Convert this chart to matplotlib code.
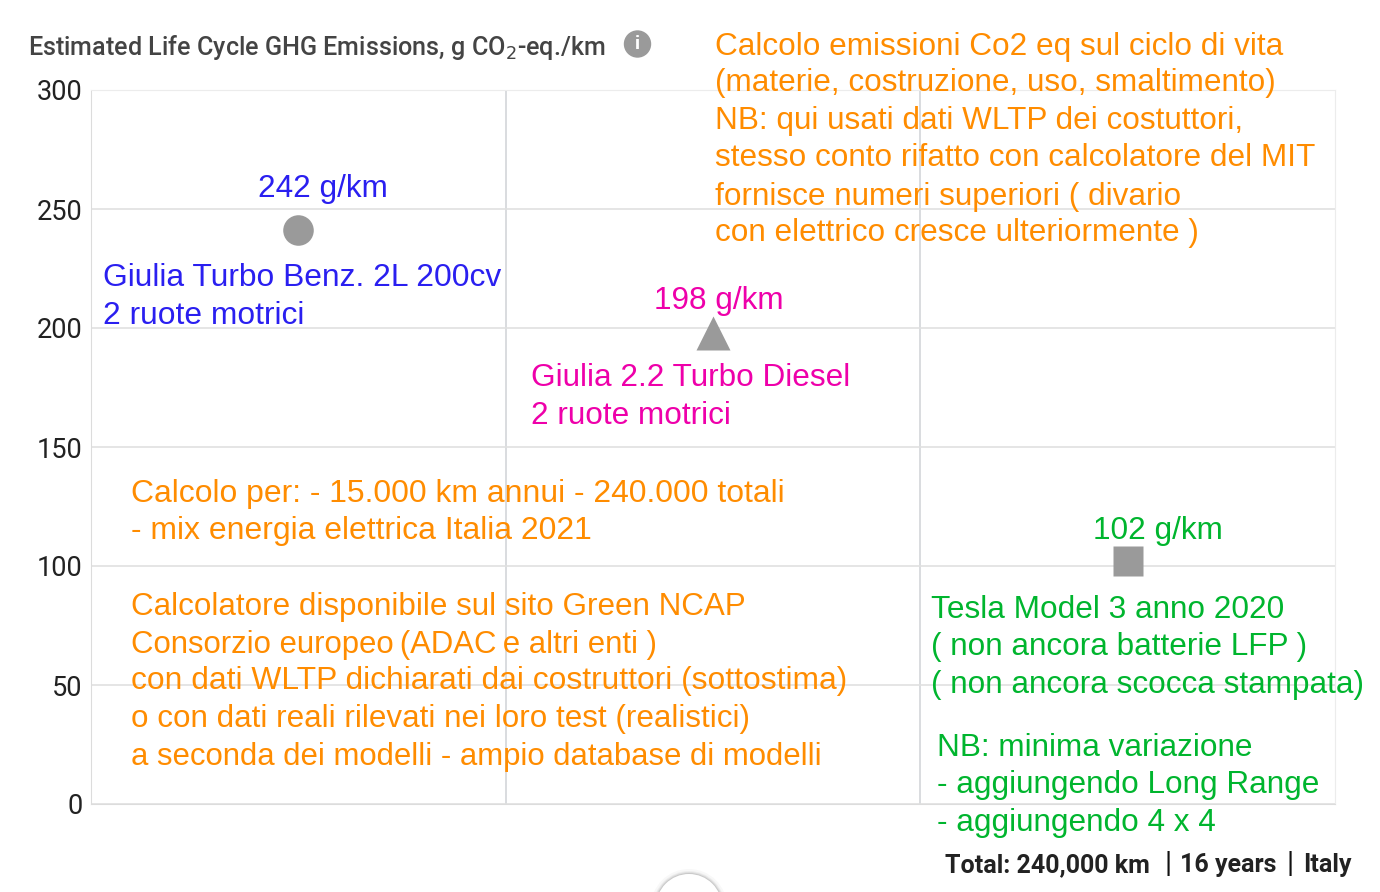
import matplotlib
matplotlib.use('Agg')
import matplotlib.pyplot as plt
from matplotlib.patches import Circle

W, H = 1380, 892

# chart data
yticks = [0, 50, 100, 150, 200, 250, 300]
xgrid = [1, 2]
cars_x = [0.5, 1.5, 2.5]
cars_y = [241, 198, 102]
cars_marker = ['o', '^', 's']

BLUE = '#2a1ff0'
MAGENTA = '#ee00aa'
ORANGE = '#ff8c00'
GREEN = '#00b52e'
GREY = '#9a9a9a'

plt.rcParams['font.family'] = ['Roboto', 'DejaVu Sans']

fig = plt.figure(figsize=(W / 100, H / 100), dpi=100)
ax = fig.add_axes([91 / W, 1 - 804 / H, (1335 - 91) / W, (804 - 90) / H])
ax.set_xlim(0, 3)
ax.set_ylim(0, 300)
ax.set_yticks(yticks)
ax.set_xticks(xgrid)
ax.tick_params(axis='y', length=0, pad=6, labelsize=19.5, labelcolor='#222222')
ax.tick_params(axis='x', length=0, labelbottom=False)
ax.grid(axis='y', color='#e0e0e0', lw=1.2)
ax.grid(axis='x', color='#cfd2d6', lw=1.1)
ax.set_axisbelow(True)
for s in ['top', 'right']:
    ax.spines[s].set_color('#ececec')
for s in ['left', 'bottom']:
    ax.spines[s].set_color('#dcdcdc')

for x, y, m in zip(cars_x, cars_y, cars_marker):
    ax.plot([x], [y], marker=m, ms=22 if m != '^' else 24, color=GREY, ls='none', mec='none', zorder=3, clip_on=False)


def txt(x, y, s, color, size=22.7):
    fig.text((x - 1) / W, 1 - (y + 2.5) / H, s, color=color, fontsize=size, va='center', ha='left', family=['Liberation Sans', 'DejaVu Sans'])


fig.text(28 / W, 1 - 47 / H, 'Estimated Life Cycle GHG Emissions, g CO$_2$-eq./km', fontsize=18.1, fontweight='medium', color='#444444', va='center', family='Roboto')

# info icon, pixel coordinates
fig.add_artist(Circle((637.5, H - 44), 13, color=GREY, transform=None))
fig.text(637.5 / W, 1 - 44 / H, 'i', fontsize=14, fontweight='bold', color='white', ha='center', va='center', family='Roboto')

# round button cut off by the bottom edge, with soft shadow
for r, a in zip([38, 36, 35, 34], [0.05, 0.08, 0.12, 0.2]):
    fig.add_artist(Circle((689, H - 907), r, color='#777777', alpha=a, lw=0, transform=None))
fig.add_artist(Circle((689, H - 907), 33, color='white', lw=0, transform=None))

txt(259, 186, '242 g/km', BLUE)
txt(104, 276, 'Giulia Turbo Benz. 2L 200cv', BLUE, 22.9)
txt(104, 313, '2 ruote motrici', BLUE, 22.9)

txt(655, 298, '198 g/km', MAGENTA)
txt(532, 376, 'Giulia 2.2 Turbo Diesel', MAGENTA)
txt(532, 413, '2 ruote motrici', MAGENTA)

txt(1094, 528, '102 g/km', GREEN)
green_lines = ['Tesla Model 3 anno 2020', '( non ancora batterie LFP )', '( non ancora scocca stampata)']
for y, s in zip([608, 645, 683], green_lines):
    txt(932, y, s, GREEN)
for y, s in zip([746, 783, 821], ['NB: minima variazione', '- aggiungendo Long Range', '- aggiungendo 4 x 4']):
    txt(938, y, s, GREEN)

top_lines = ['Calcolo emissioni Co2 eq sul ciclo di vita', '(materie, costruzione, uso, smaltimento)',
             'NB: qui usati dati WLTP dei costuttori,', 'stesso conto rifatto con calcolatore del MIT',
             'fornisce numeri superiori ( divario', 'con elettrico cresce ulteriormente )']
for y, s in zip([44, 81, 119, 156, 194, 231], top_lines):
    txt(716, y, s, ORANGE)

for y, s in zip([492, 529], ['Calcolo per: - 15.000 km annui - 240.000 totali', '- mix energia elettrica Italia 2021']):
    txt(132, y, s, ORANGE, 22.95)

low_lines = ['Calcolatore disponibile sul sito Green NCAP', 'Consorzio europeo\u2009(ADAC\u2009e altri enti )',
             'con dati WLTP dichiarati dai costruttori (sottostima)', 'o con dati reali rilevati nei loro test (realistici)',
             'a seconda dei modelli - ampio database di modelli']
low_sizes = [22.6, 22.4, 22.85, 22.6, 22.45]
for y, s, fs in zip([604, 642, 679, 717, 754], low_lines, low_sizes):
    txt(132, y, s, ORANGE, fs)

# footer pieces
footer_x = [945, 1180, 1303]
footer = ['Total: 240,000 km', '16 years', 'Italy']
for x, s in zip(footer_x, footer):
    fig.text(x / W, 1 - 865 / H, s, fontsize=18, fontweight='bold', color='#222222', va='center', family='Roboto')
for x in [1168, 1290]:
    fig.text(x / W, 1 - 864 / H, '|', fontsize=21, color='#111111', va='center', ha='center', family='Roboto')

fig.savefig('out.png', dpi=100)
